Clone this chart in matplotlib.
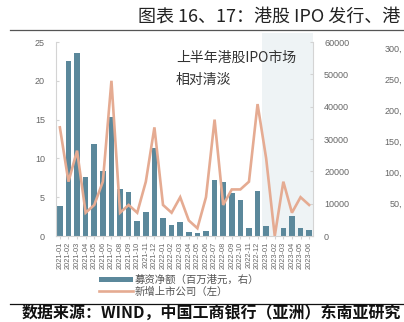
import numpy as np
import matplotlib
matplotlib.use("Agg")
import matplotlib.pyplot as plt
from matplotlib.patches import Patch
from matplotlib.lines import Line2D

plt.rcParams['font.family'] = ['Noto Sans CJK SC', 'DejaVu Sans']

# Data
months = ["2021-01", "2021-02", "2021-03", "2021-04", "2021-05", "2021-06",
          "2021-07", "2021-08", "2021-09", "2021-10", "2021-11", "2021-12",
          "2022-01", "2022-02", "2022-03", "2022-04", "2022-05", "2022-06",
          "2022-07", "2022-08", "2022-09", "2022-10", "2022-11", "2022-12",
          "2023-01", "2023-02", "2023-03", "2023-04", "2023-05", "2023-06"]
raised = [9200, 54000, 56600, 18300, 28500, 20200, 36800, 14400, 13700, 4650, 7300, 27200,
          5700, 3300, 4200, 1250, 1050, 1450, 17350, 16700, 13300, 11050, 2400, 14050,
          3150, 0, 2450, 6150, 2450, 1800]
new_listings = [14, 7, 11, 3, 4, 7, 20, 3, 4, 3, 7, 14,
                4, 3, 5, 2, 1, 5, 15, 4, 6, 6, 7, 17,
                10, 0, 7, 3, 5, 4]
left_ticks = [0, 5, 10, 15, 20, 25]
right_ticks = [0, 10000, 20000, 30000, 40000, 50000, 60000]
# visible part of the neighbouring chart's axis labels
neighbor_labels = ["300,", "250,", "200,", "150,", "100,", "50,"]

bar_color = '#5b889b'
line_color = '#e5ab92'
shade_color = '#eef3f5'
spine_color = '#d4d4d4'
tick_color = '#666666'

W, H = 404, 322
fig = plt.figure(figsize=(W / 100, H / 100), dpi=100)
ax = fig.add_axes([56 / W, 1 - 236 / H, (313 - 56) / W, (236 - 42) / H])
ax2 = ax.twinx()
ax.set_zorder(ax2.get_zorder() + 1)
ax.patch.set_visible(False)

x = np.arange(len(months))

# shaded first half of 2023
ax2.axvspan(23.5, len(months) - 0.55, ymin=0, ymax=1.046, color=shade_color,
            lw=0, zorder=0, clip_on=False)
ax2.bar(x, raised, width=0.66, color=bar_color, zorder=2)
ax.plot(x, new_listings, color=line_color, lw=1.9, solid_joinstyle='miter')

ax.set_xlim(-0.45, len(months) - 0.55)
ax.set_ylim(0, 25)
ax2.set_ylim(0, 60000)

ax.set_xticks(x)
ax.set_xticklabels(months, rotation=90, fontsize=5.3, color=tick_color,
                   family='Liberation Sans')
ax.set_yticks(left_ticks)
ax.set_yticklabels([str(v) for v in left_ticks], fontsize=6.5, color=tick_color,
                   family='Liberation Sans')
ax2.set_yticks(right_ticks)
ax2.set_yticklabels([str(v) for v in right_ticks], fontsize=6.5, color=tick_color,
                    family='Liberation Sans')

ax.tick_params(axis='y', direction='in', length=2, color=spine_color, pad=8)
ax2.tick_params(axis='y', direction='in', length=2, color=spine_color, pad=8)
ax.tick_params(axis='x', direction='out', length=2, color=spine_color, pad=2)

for name in ['top', 'right']:
    ax.spines[name].set_visible(False)
for name in ['top', 'left', 'bottom']:
    ax2.spines[name].set_visible(False)
ax.spines['left'].set_color(spine_color)
ax.spines['bottom'].set_color(spine_color)
ax2.spines['right'].set_color(spine_color)

# annotation
fig.text(176 / W, 1 - 51 / H, "上半年港股IPO市场\n相对清淡", fontsize=10,
         va='top', ha='left', linespacing=1.75, color='#333333')

# legend
handles = [Patch(facecolor=bar_color, edgecolor='none'),
           Line2D([], [], color=line_color, lw=1.9)]
fig.legend(handles, ["募资净额（百万港元，右）", "新增上市公司（左）"],
           loc='upper left', bbox_to_anchor=(99 / W, 1 - 275 / H),
           frameon=False, fontsize=7.5, labelcolor='#555555',
           handlelength=3.3, handleheight=0.45, handletextpad=0.15,
           labelspacing=0.12, borderpad=0, borderaxespad=0)

# title, rules, source
fig.text(138 / W, 1 - 17 / H, "图表 16、17：港股 IPO 发行、港", fontsize=13,
         va='center', ha='left', color='#222222')
fig.add_artist(Line2D([10 / W, 1], [1 - 29.5 / H] * 2, color='#555555', lw=0.9))
fig.add_artist(Line2D([10 / W, 1], [1 - 303.5 / H] * 2, color='#111111', lw=0.9))
fig.text(22 / W, 1 - 305 / H, "数据来源：WIND，中国工商银行（亚洲）东南亚研究",
         fontsize=11.5, style='italic', weight='bold', va='top', ha='left',
         color='#111111')

# cropped tick labels of the neighbouring chart
for i, lab in enumerate(neighbor_labels):
    fig.text(402 / W, 1 - (49 + 31 * i) / H, lab, fontsize=6.5, ha='right',
             va='center', color=tick_color, family='Liberation Sans')

fig.savefig("out.png", dpi=100)
